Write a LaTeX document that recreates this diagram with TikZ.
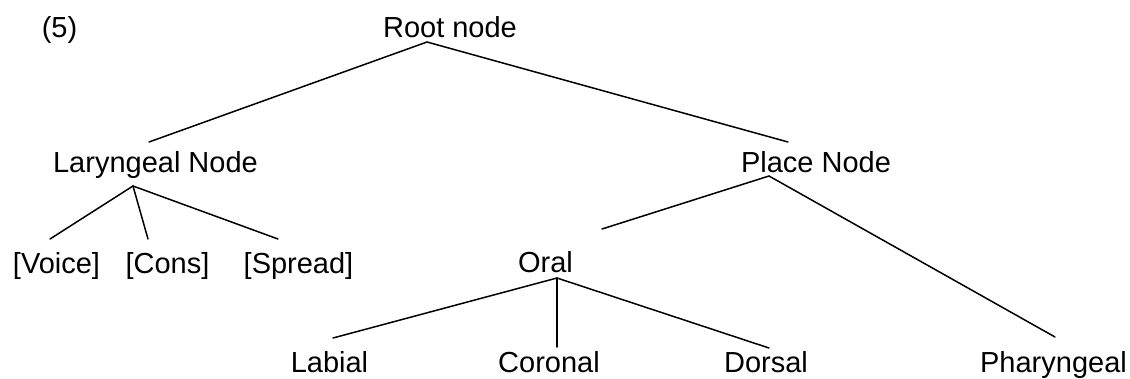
\documentclass[tikz,border=0pt]{standalone}
\usepackage{fontspec}
\setmainfont{Liberation Sans}
\usetikzlibrary{calc}
\tikzset{
  lbl/.style={inner sep=0pt, outer sep=0pt, anchor=base, font=\fontsize{29}{34}\selectfont},
  edge/.style={line width=1.5pt, line cap=round}
}
\begin{document}
\begin{tikzpicture}[x=1pt,y=-1pt]
\useasboundingbox (0,0) rectangle (1130,378);
\node[lbl] (num) at (59.5,37) {(5)};
\node[lbl] (root) at (450,37) {Root node};
\node[lbl] (lar) at (155.5,172) {Laryngeal Node};
\node[lbl] (place) at (816,172) {Place Node};
\node[lbl] (voice) at (56.5,273) {[Voice]};
\node[lbl] (cons) at (167.5,273) {[Cons]};
\node[lbl] (spread) at (298.5,273) {[Spread]};
\node[lbl] (oral) at (545.5,272) {Oral};
\node[lbl] (labial) at (329.5,372) {Labial};
\node[lbl] (coronal) at (549,372) {Coronal};
\node[lbl] (dorsal) at (766,372) {Dorsal};
\node[lbl] (phar) at (1053.5,372) {Pharyngeal};
% connectors
\draw[edge] ($(root.base)+(-23,5)$) -- ($(lar.base)+(-6.5,-30)$);
\draw[edge] ($(root.base)+(-23,5)$) -- ($(place.base)+(-28,-30)$);
\draw[edge] ($(lar.base)+(-22.5,14)$) -- ($(voice.base)+(-6.5,-34)$);
\draw[edge] ($(lar.base)+(-22.5,14)$) -- ($(cons.base)+(-19.5,-34)$);
\draw[edge] ($(lar.base)+(-22.5,14)$) -- ($(spread.base)+(-20.5,-34)$);
\draw[edge] ($(place.base)+(-47,4)$) -- ($(oral.base)+(56.5,-43)$);
\draw[edge] ($(place.base)+(-47,4)$) -- ($(phar.base)+(1.5,-35)$);
\draw[edge] ($(oral.base)+(11.5,6)$) -- ($(labial.base)+(3.5,-34)$);
\draw[edge] ($(oral.base)+(11.5,6)$) -- ($(coronal.base)+(8,-25)$);
\draw[edge] ($(oral.base)+(11.5,6)$) -- ($(dorsal.base)+(3,-24)$);
\end{tikzpicture}
\end{document}
